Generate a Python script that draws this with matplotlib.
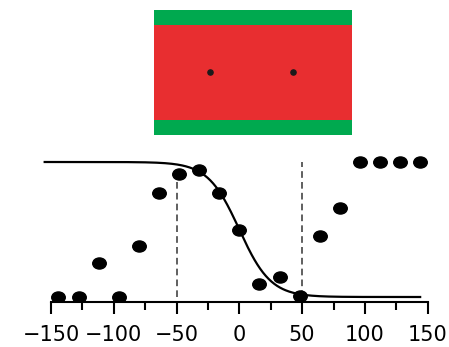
import matplotlib
matplotlib.use("Agg")
import matplotlib.pyplot as plt
import numpy as np
from matplotlib.path import Path

# measured points
pos = [-144, -128, -112, -96, -80, -64, -48, -32, -16, 0,
       16, 32, 48, 64, 80, 96, 112, 128, 144]
frac = [0.0, 0.0, 0.25, 0.0, 0.38, 0.77, 0.91, 0.94, 0.77, 0.50,
        0.10, 0.15, 0.01, 0.45, 0.66, 1.0, 1.0, 1.0, 1.0]

# fitted sigmoid
fit_mid = 0.0
fit_width = 12.5
fit_range = (-155, 144)

# dashed markers
edges = [-50, 50]
edge_tops = [0.90, 1.0]

xticks = [-150, -100, -50, 0, 50, 100, 150]

# schematic on top: layer thickness (bottom -> top) and particle x
layer_h = [0.12, 0.76, 0.12]
layer_col = ["#00a94f", "#e82e30", "#00a94f"]
particle_x = [0.283, 0.702]
particle_y = [0.5, 0.5]

W, H = 449, 347
fig = plt.figure(figsize=(W / 100, H / 100), dpi=100)

# --- schematic ---
ax0 = fig.add_axes([154 / W, 1 - 135 / H, 198 / W, 125 / H])
bottom = 0.0
for h, c in zip(layer_h, layer_col):
    ax0.bar(0.5, h, width=1.0, bottom=bottom, color=c, edgecolor="none")
    bottom += h
ax0.scatter(particle_x, particle_y, s=14, color="#1a1a1a", zorder=3)
ax0.set_xlim(0, 1)
ax0.set_ylim(0, 1)
ax0.axis("off")

# --- profile ---
ax = fig.add_axes([38.4 / W, (H - 302.4) / H, 391.8 / W, 153.9 / H])

xs = np.linspace(*fit_range, 400)
ax.plot(xs, 1 / (1 + np.exp((xs - fit_mid) / fit_width)), color="black",
        lw=1.6, zorder=2)

for x, top in zip(edges, edge_tops):
    ax.plot([x, x], [0, top], ls=(0, (4, 2.5)), color="#444444", lw=1.2,
            zorder=1)

circ = Path.unit_circle()
oval = Path(circ.vertices * [1.0, 0.82], circ.codes)
ax.scatter(pos, frac, marker=oval, s=95, color="black", zorder=3)

ax.set_xlim(-160, 152)
ax.set_ylim(-0.04, 1.1)
for side in ("top", "right", "left"):
    ax.spines[side].set_visible(False)
ax.spines["bottom"].set_bounds(-150, 150)
ax.spines["bottom"].set_linewidth(1.5)
ax.set_yticks([])
ax.set_xticks(xticks)
ax.set_xticklabels([f"\u2212{-t}" if t < 0 else str(t) for t in xticks])
ax.set_xticks(np.arange(-125, 150, 50), minor=True)
ax.tick_params(axis="x", which="major", direction="out", length=8.6,
               width=1.5, labelsize=15, pad=8)
ax.tick_params(axis="x", which="minor", direction="out", length=5.8,
               width=1.5)

fig.savefig("out.png", dpi=100)
